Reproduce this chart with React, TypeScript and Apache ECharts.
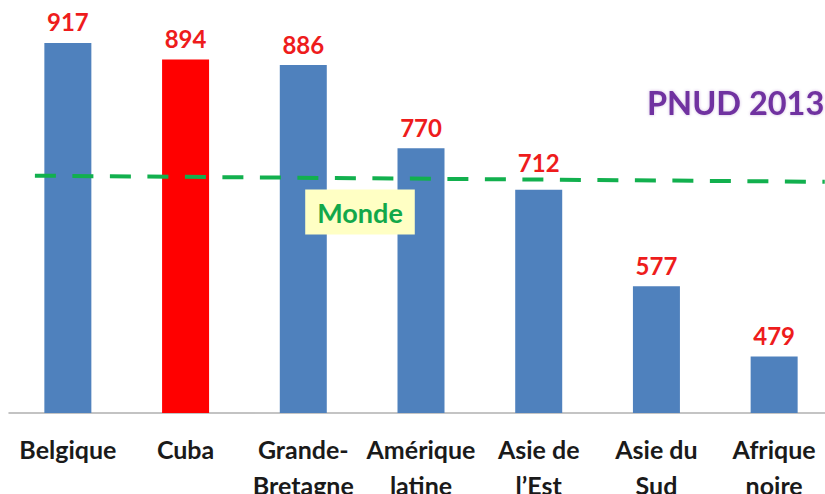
import React, { useEffect, useRef } from "react";
import * as echarts from "echarts";

const categories = [
  "Belgique",
  "Cuba",
  "Grande-\nBretagne",
  "Amérique\nlatine",
  "Asie de\nl’Est",
  "Asie du\nSud",
  "Afrique\nnoire",
];
const values = [917, 894, 886, 770, 712, 577, 479];
const highlighted = "Cuba";
// World reference line (slightly slanted in the source picture)
const worldLineX = [0.22, 6.93];
const worldLineY = [731.5, 723];
const worldLabel = "Monde";
const sourceLabel = "PNUD 2013";

const FONT = "Lato, 'Open Sans', sans-serif";

export default function App() {
  const ref = useRef<HTMLDivElement>(null);
  useEffect(() => {
    if (!ref.current) return;
    const chart = echarts.init(ref.current, null, { renderer: "svg" });
    chart.setOption({
      animation: false,
      backgroundColor: "#ffffff",
      grid: {
        left: 9,
        top: 19.3,
        width: 824,
        height: 393.7,
        containLabel: false,
        outerBoundsMode: "none",
      },
      xAxis: [
        {
          type: "category",
          data: categories,
          axisLine: { show: true, lineStyle: { color: "#B0B0B0", width: 1.5 } },
          axisTick: { show: false },
          axisLabel: {
            color: "#1a1a1a",
            fontWeight: "bold",
            fontSize: 25,
            fontFamily: FONT,
            lineHeight: 36,
            margin: 18,
            interval: 0,
          },
        },
        { type: "value", min: 0, max: 7, show: false },
      ],
      yAxis: {
        type: "value",
        min: 400,
        max: 950,
        show: false,
        splitLine: { show: false },
      },
      series: [
        {
          type: "bar",
          barWidth: 47,
          z: 2,
          data: values.map((v, i) => ({
            value: v,
            itemStyle: { color: categories[i] === highlighted ? "#FF0000" : "#4F81BD" },
            // the label above the bar crossed by the world line sits a little higher
            label:
              v < worldLineY[0] && v > worldLineY[1] - 30 ? { distance: 15 } : undefined,
          })),
          label: {
            show: true,
            position: "top",
            distance: 9,
            color: "#EE1C1C",
            fontWeight: "bold",
            fontSize: 24,
            fontFamily: FONT,
          },
        },
        {
          type: "line",
          xAxisIndex: 1,
          symbol: "none",
          data: worldLineX.map((x, i) => [x, worldLineY[i]]),
          lineStyle: { color: "#12B04E", width: 4, type: [21, 16.5] },
          z: 5,
        },
      ],
      graphic: [
        {
          type: "text",
          x: 360,
          y: 212,
          z: 10,
          style: {
            text: worldLabel,
            fill: "#12A84A",
            font: `bold 27px ${FONT}`,
            align: "center",
            verticalAlign: "middle",
            backgroundColor: "#FFFFC4",
            padding: [10, 12, 8, 12],
          },
        },
        {
          type: "text",
          x: 647,
          y: 102,
          style: {
            text: sourceLabel,
            fill: "#7030A0",
            font: `bold 32.5px ${FONT}`,
            align: "left",
            verticalAlign: "middle",
            textShadowColor: "rgba(112,48,160,0.35)",
            textShadowBlur: 3,
          },
        },
      ],
    });
    return () => chart.dispose();
  }, []);
  return (
    <div
      ref={ref}
      style={{ position: "absolute", left: 0, top: 0, width: 825, height: 494 }}
    />
  );
}
